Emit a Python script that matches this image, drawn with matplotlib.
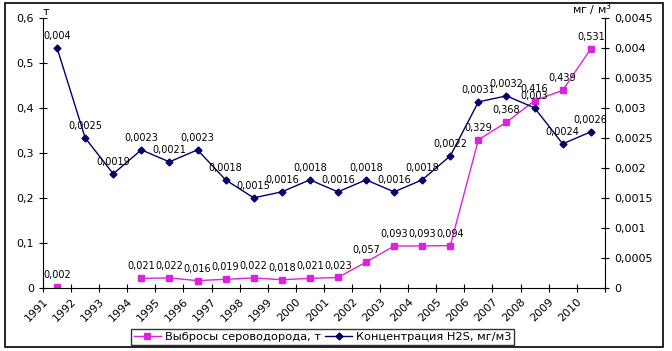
import matplotlib.pyplot as plt
import matplotlib.ticker as mticker
from matplotlib.patches import Rectangle
import numpy as np

years = [str(y) for y in range(1991, 2011)]
# выбросы сероводорода, т (1992-1993 нет данных)
emissions = [0.002, np.nan, np.nan, 0.021, 0.022, 0.016, 0.019, 0.022, 0.018, 0.021,
             0.023, 0.057, 0.093, 0.093, 0.094, 0.329, 0.368, 0.416, 0.439, 0.531]
# концентрация H2S, мг/м3
conc = [0.004, 0.0025, 0.0019, 0.0023, 0.0021, 0.0023, 0.0018, 0.0015, 0.0016, 0.0018,
        0.0016, 0.0018, 0.0016, 0.0018, 0.0022, 0.0031, 0.0032, 0.003, 0.0024, 0.0026]

navy = '#000066'
magenta = '#dd22dd'

plt.rcParams['font.family'] = 'DejaVu Sans'

def comma(v, pos=None):
    if v == 0:
        return '0'
    return ('%g' % v).replace('.', ',')

fig = plt.figure(figsize=(6.72, 3.51), dpi=100)
ax = fig.add_axes([0.064, 0.18, 0.836, 0.769])
ax2 = ax.twinx()

x = np.arange(len(years))
l1, = ax.plot(x, emissions, color=magenta, lw=1, marker='s', ms=5,
              mfc=magenta, mec=magenta, label='Выбросы сероводорода, т')
l2, = ax2.plot(x, conc, color=navy, lw=1, marker='D', ms=3.5,
               mfc=navy, mec=navy, label='Концентрация H2S, мг/м3')

for xi, v in zip(x, emissions):
    if not np.isnan(v):
        ax.annotate(comma(v), (xi, v), xytext=(0, 5), textcoords='offset points',
                    ha='center', va='bottom', fontsize=7)
for xi, v in zip(x, conc):
    ax2.annotate(comma(v), (xi, v), xytext=(0, 5), textcoords='offset points',
                 ha='center', va='bottom', fontsize=7)

ax.set_xlim(-0.5, len(years) - 0.5)
ax.set_ylim(0, 0.6)
ax2.set_ylim(0, 0.0045)
ax.yaxis.set_major_locator(mticker.MultipleLocator(0.1))
ax2.yaxis.set_major_locator(mticker.MultipleLocator(0.0005))
ax.yaxis.set_major_formatter(mticker.FuncFormatter(comma))
ax2.yaxis.set_major_formatter(mticker.FuncFormatter(comma))

ax.set_xticks(np.arange(-0.5, len(years) + 0.5, 1))
ax.set_xticklabels(years + [''], rotation=45, ha='right', va='top',
                   rotation_mode='anchor', fontsize=7)

for a in (ax, ax2):
    a.spines['top'].set_visible(False)
    a.tick_params(direction='inout', length=6, width=0.8, labelsize=8)
ax.spines['right'].set_visible(False)
ax2.spines['left'].set_visible(False)
ax2.spines['bottom'].set_visible(False)
ax.tick_params(axis='x', pad=3)

fig.text(0.068, 0.952, 'т', fontsize=8, ha='center', va='bottom')
fig.text(0.911, 0.950, 'мг / м$^3$', fontsize=8, ha='right', va='bottom')

fig.legend(handles=[l1, l2], loc='center', bbox_to_anchor=(0.480, 0.040),
           ncol=2, fontsize=8.2, frameon=True, fancybox=False, edgecolor='black',
           borderpad=0.25, handlelength=2.4, handletextpad=0.3, columnspacing=0.4,
           borderaxespad=0)

fig.patches.append(Rectangle((0.007, 0.011), 0.980, 0.980, transform=fig.transFigure,
                             fill=False, edgecolor='black', lw=1.2))

fig.savefig('out.png', dpi=100)
